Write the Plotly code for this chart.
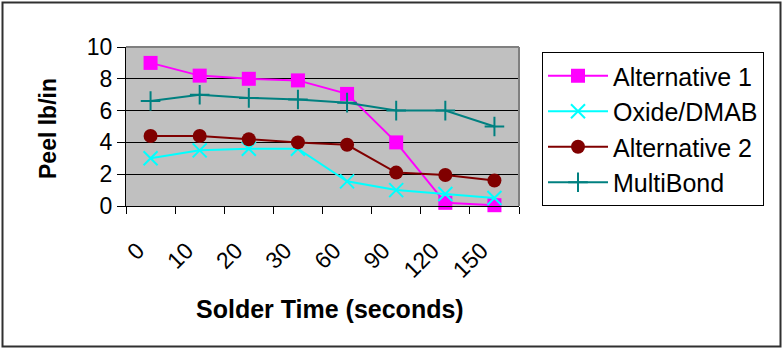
import plotly.graph_objects as go

categories = ["0", "10", "20", "30", "60", "90", "120", "150"]
alternative_1 = [9.0, 8.2, 8.0, 7.9, 7.05, 4.0, 0.2, 0.05]
oxide_dmab = [3.0, 3.5, 3.6, 3.6, 1.55, 1.0, 0.75, 0.5]
alternative_2 = [4.4, 4.4, 4.2, 4.0, 3.85, 2.1, 1.95, 1.6]
multibond = [6.6, 7.0, 6.8, 6.7, 6.5, 6.0, 6.0, 5.0]
y_ticks = [0, 2, 4, 6, 8, 10]

FONT = "Liberation Sans, Arial, sans-serif"

fig = go.Figure()
series = [
    ("Alternative 1", alternative_1, "#FF00FF", "square", 14),
    ("Oxide/DMAB", oxide_dmab, "#00FFFF", "x-thin", 14),
    ("Alternative 2", alternative_2, "#800000", "circle", 14),
    ("MultiBond", multibond, "#008080", "cross-thin", 14),
]
for name, vals, col, sym, sz in series:
    thin = sym.endswith("thin")
    fig.add_trace(go.Scatter(
        x=categories, y=vals, name=name, mode="lines+markers",
        legendgroup=name,
        line=dict(color=col, width=2),
        marker=dict(symbol=sym, size=sz, color=col,
                    line=dict(color=col, width=2 if thin else 0)),
        cliponaxis=False,
    ))

W, H = 783, 349
L, R, T, B = 126, 519, 47, 206
pw, ph = R - L, B - T

def px(x):
    return (x - L) / pw

def py(y):
    return (B - y) / ph

fig.update_layout(
    width=W, height=H,
    margin=dict(l=L, r=W - R, t=T, b=H - B),
    paper_bgcolor="white", plot_bgcolor="#C0C0C0",
    font=dict(family=FONT, color="black"),
    showlegend=True,
    legend=dict(
        x=px(542), y=py(52), xanchor="left", yanchor="top",
        bordercolor="black", borderwidth=1, bgcolor="white",
        font=dict(family=FONT, size=25, color="black"),
        itemwidth=60, tracegroupgap=0, maxheight=320,
    ),
    xaxis=dict(
        type="category", range=[-0.5, 7.5],
        showline=True, linecolor="black", linewidth=1,
        ticks="outside", ticklen=7, tickcolor="black", tickson="boundaries",
        tickangle=-45, tickfont=dict(family=FONT, size=23, color="black"),
        ticklabelstandoff=21, ticklabelshift=-13,
        showgrid=False, zeroline=False,
    ),
    yaxis=dict(
        range=[0, 10], tickvals=y_ticks,
        showline=True, linecolor="black", linewidth=1,
        ticks="outside", ticklen=8, tickcolor="black",
        tickfont=dict(family=FONT, size=23, color="black"),
        showgrid=True, gridcolor="black", gridwidth=1, zeroline=False,
    ),
    shapes=[
        dict(type="line", xref="paper", yref="paper", x0=0, x1=1, y0=1, y1=1,
             line=dict(color="#808080", width=2), layer="above"),
        dict(type="line", xref="paper", yref="paper", x0=1, x1=1, y0=0, y1=1,
             line=dict(color="#808080", width=2), layer="above"),
        dict(type="rect", xref="paper", yref="paper",
             x0=px(2.5), x1=px(780.5), y0=py(346.5), y1=py(2.5),
             line=dict(color="#303030", width=2), layer="above"),
    ],
    annotations=[
        dict(text="<b>Solder Time (seconds)</b>", xref="paper", yref="paper",
             x=px(330), y=py(309), xanchor="center", yanchor="middle",
             showarrow=False, font=dict(family=FONT, size=25, color="black")),
        dict(text="<b>Peel lb/in</b>", xref="paper", yref="paper",
             x=px(47.5), y=py(128.5), xanchor="center", yanchor="middle",
             textangle=-90, showarrow=False,
             font=dict(family=FONT, size=23, color="black")),
    ],
)

fig.write_html("out.html")
